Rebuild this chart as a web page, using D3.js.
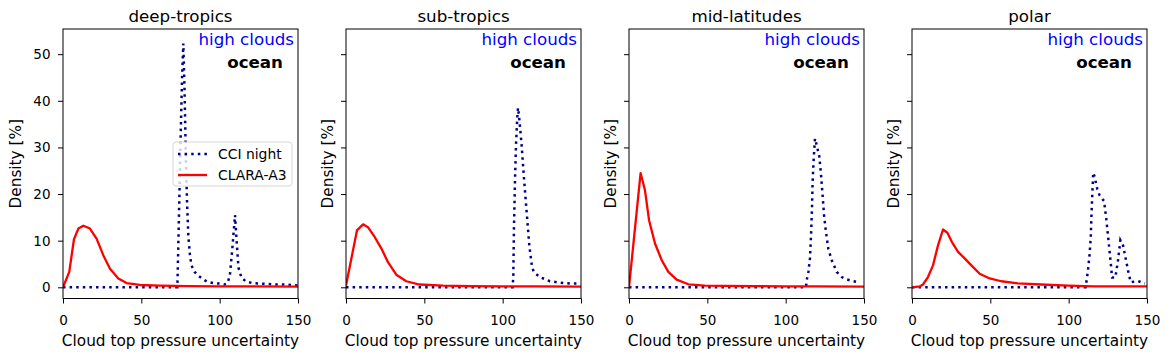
<!DOCTYPE html>
<html><head><meta charset="utf-8">
<script src="https://cdn.jsdelivr.net/npm/d3@7"></script>
<style>body{margin:0;background:#fff}svg{display:block;font-family:"DejaVu Sans",sans-serif}</style>
</head><body><svg id="c" width="1171" height="358"></svg>
<script>
const regions = ["deep-tropics", "sub-tropics", "mid-latitudes", "polar"];
const seriesNames = ["CCI night", "CLARA-A3"];
const xTicks = [0, 50, 100, 150];
const yTicks = [0, 10, 20, 30, 40, 50];
const annotation1 = "high clouds";
const annotation2 = "ocean";

// CCI night
const cciX_tropics = [0,73,74,75,76,76.8,77.6,78.4,79.2,80,81,82,84,86,89,92,96,100,103,105,106.5,108,109.8,111,112,114,117,121,126,131,136,141,146,150];
const cciY_tropics = [0,0,15,31,45,52.3,42,28,18,11,7,4.7,3.3,2.6,1.8,1.2,0.9,0.8,0.6,0.9,2.5,8,15.5,9,4.2,2,1.2,0.9,0.8,0.7,0.6,0.6,0.5,0.4];
const cciX_sub = [0,106.4,106.8,107.2,107.9,108.5,109.4,109.8,110.6,112.1,113.6,115.3,117,118.7,120,123.8,130.2,138.7,144,148.3];
const cciY_sub = [0,0,2.6,12.6,23.4,30.5,36.9,38.5,36.2,30.5,23.4,16.2,9,4.4,3.2,2.2,1.3,0.9,0.8,0.8];
const cciX_mid = [0,113,113.4,114.5,115.5,116.2,116.8,117.2,117.9,118.7,119.8,121.5,122.6,123.4,124.5,125.7,127.2,129.4,132.6,135.8,139,142.2,146.4];
const cciY_mid = [0,0,1.5,3.3,6.2,11.2,16.9,22.6,27.6,31.9,30.5,28,24,20.5,15.5,11.9,8.3,5.8,3.3,2.2,1.7,1.4,1.1];
const cciX_polar = [0,110.8,111.3,112.3,113.4,114.1,114.5,115.1,115.7,116.6,118.3,119.8,122.6,124.1,125.6,126.9,127.7,129.8,131.5,133,134.7,136.2,137.9,139.6,144.3,148.6];
const cciY_polar = [0,0,1.1,3.6,7.2,10.8,15.1,20.1,24.6,23.7,21,19.7,18.5,14.4,9.4,5.1,2.1,2.1,5.8,10.1,9,6.5,3.6,1.1,1.35,0.8];

// CLARA-A3
const claraX_tropics = [0,4,7,9.8,13,17.2,21.5,25.7,30,35.3,40.6,49,62,80,100,120,150];
const claraY_tropics = [0,3.3,10.3,12.6,13.2,12.6,10.4,6.9,4,1.9,0.9,0.5,0.35,0.25,0.2,0.2,0.15];
const claraX_sub = [0,7,10.9,14,18.3,22.6,26.8,32.1,38.5,47,62,80,100,120,150];
const claraY_sub = [0.4,12.2,13.5,12.9,10.8,8.3,5.4,2.7,1.3,0.6,0.35,0.25,0.2,0.2,0.15];
const claraX_mid = [0,7.4,10.2,12.8,16.6,20.9,25.1,30.4,37.9,48.5,61,80,100,120,150];
const claraY_mid = [0,24.5,20.8,14.4,9.4,5.8,3.3,1.65,0.65,0.35,0.3,0.25,0.2,0.2,0.15];
const claraX_polar = [0,4.9,7,10.2,13.4,16.6,19.8,22.6,25.5,29.4,33.6,37.9,43.2,49.6,57,67.7,82.5,99.6,116.6,150];
const claraY_polar = [0,0.2,0.6,2.2,4.7,9,12.4,11.7,9.7,7.6,6.2,4.7,2.9,1.9,1.3,0.85,0.6,0.35,0.2,0.2];

const cciXs = [cciX_tropics, cciX_sub, cciX_mid, cciX_polar];
const cciYs = [cciY_tropics, cciY_sub, cciY_mid, cciY_polar];
const claraXs = [claraX_tropics, claraX_sub, claraX_mid, claraX_polar];
const claraYs = [claraY_tropics, claraY_sub, claraY_mid, claraY_polar];

const svg = d3.select("#c");
const panelLeft = [63, 346, 629, 912];
const W = 235, axTop = 29, axBottom = 298.5;
const cciColor = "#00008b", claraColor = "#ff0000";

regions.forEach((name, i) => {
  const x0 = panelLeft[i];
  const x = d3.scaleLinear().domain([0, 150]).range([x0, x0 + W]);
  const y = d3.scaleLinear().domain([-2.4, 55.4]).range([axBottom, axTop]);
  const g = svg.append("g");
  const clipId = "clip" + i;
  g.append("clipPath").attr("id", clipId).append("rect")
    .attr("x", x0).attr("y", axTop).attr("width", W).attr("height", axBottom - axTop);

  const line = d3.line().x(d => x(d[0])).y(d => y(d[1]));
  const cci = d3.zip(cciXs[i], cciYs[i]);
  const clara = d3.zip(claraXs[i], claraYs[i]);
  g.append("path").attr("d", line(cci)).attr("fill", "none")
    .attr("stroke", cciColor).attr("stroke-width", 2.5)
    .attr("stroke-dasharray", "2.5,4.1").attr("clip-path", `url(#${clipId})`);
  g.append("path").attr("d", line(clara)).attr("fill", "none")
    .attr("stroke", claraColor).attr("stroke-width", 2.3)
    .attr("stroke-linejoin", "round").attr("clip-path", `url(#${clipId})`);

  const xAxis = d3.axisBottom(x).tickValues(xTicks).tickSize(5).tickPadding(12).tickFormat(d3.format("d"));
  const xg = g.append("g").attr("transform", `translate(0,${axBottom})`).call(xAxis);
  xg.select(".domain").remove();
  xg.selectAll("text").attr("font-size", 13.5).attr("fill", "#000").attr("font-family", "DejaVu Sans");
  xg.selectAll("line").attr("stroke", "#000");

  const yAxis = d3.axisLeft(y).tickValues(yTicks).tickSize(5).tickPadding(7.5).tickFormat(i === 0 ? d3.format("d") : () => "");
  const yg = g.append("g").attr("transform", `translate(${x0},0)`).call(yAxis);
  yg.select(".domain").remove();
  yg.selectAll("text").attr("font-size", 13.5).attr("fill", "#000").attr("font-family", "DejaVu Sans");
  yg.selectAll("line").attr("stroke", "#000");

  g.append("rect").attr("x", x0).attr("y", axTop).attr("width", W).attr("height", axBottom - axTop)
    .attr("fill", "none").attr("stroke", "#000").attr("stroke-width", 1);

  g.append("text").attr("x", x0 + W / 2).attr("y", 21.5).attr("text-anchor", "middle")
    .attr("font-size", 16.7).text(name);
  g.append("text").attr("x", x0 + W / 2).attr("y", 346).attr("text-anchor", "middle")
    .attr("font-size", 15.3).text("Cloud top pressure uncertainty");
  const ylx = i === 0 ? x0 - 42 : x0 - 13;
  g.append("text").attr("transform", `translate(${ylx},${(axTop + axBottom) / 2}) rotate(-90)`)
    .attr("text-anchor", "middle").attr("font-size", 15.3).text("Density [%]");

  g.append("text").attr("x", x0 + W - 4).attr("y", 44.5).attr("text-anchor", "end")
    .attr("font-size", 16.7).attr("fill", "#0000ff").text(annotation1);
  g.append("text").attr("x", x0 + W - 15).attr("y", 67.5).attr("text-anchor", "end")
    .attr("font-size", 16.7).attr("font-weight", "bold").attr("fill", "#000").text(annotation2);

  if (i === 0) {
    const lg = g.append("g");
    lg.append("rect").attr("x", 173).attr("y", 142).attr("width", 119).attr("height", 44)
      .attr("rx", 3).attr("fill", "#fff").attr("fill-opacity", 0.8).attr("stroke", "#d6d6d6");
    lg.append("line").attr("x1", 178).attr("x2", 207).attr("y1", 154).attr("y2", 154)
      .attr("stroke", cciColor).attr("stroke-width", 2.5).attr("stroke-dasharray", "2.5,4.1");
    lg.append("line").attr("x1", 178).attr("x2", 207).attr("y1", 175).attr("y2", 175)
      .attr("stroke", claraColor).attr("stroke-width", 2.3);
    lg.append("text").attr("x", 218).attr("y", 159).attr("font-size", 13.9).text(seriesNames[0]);
    lg.append("text").attr("x", 218).attr("y", 180).attr("font-size", 13.9).text(seriesNames[1]);
  }
});
</script></body></html>
